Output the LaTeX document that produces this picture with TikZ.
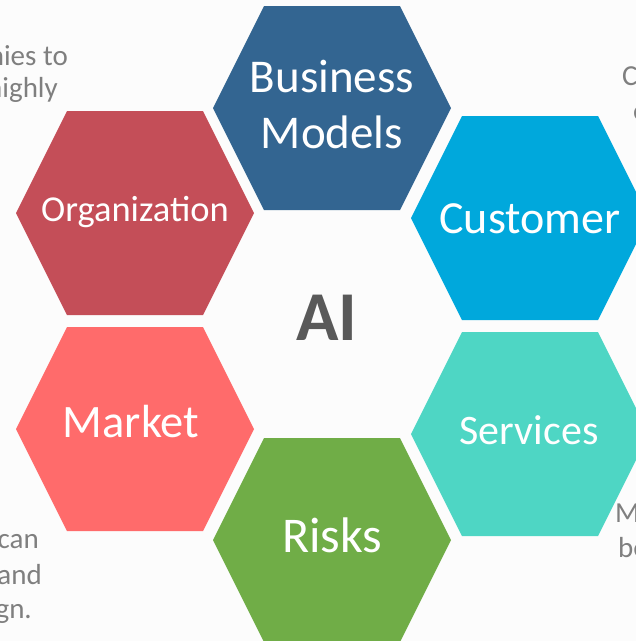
\documentclass[tikz,border=0pt]{standalone}
\usepackage{fontspec}
\setmainfont{Carlito}
\definecolor{bgpaper}{HTML}{FCFCFC}
\definecolor{cBusiness}{HTML}{336591}
\definecolor{cOrg}{HTML}{C44E58}
\definecolor{cMarket}{HTML}{FF6B6B}
\definecolor{cCustomer}{HTML}{00A8DC}
\definecolor{cServices}{HTML}{4ED6C4}
\definecolor{cRisks}{HTML}{70AD47}
\definecolor{cCore}{HTML}{595959}
\definecolor{cSide}{HTML}{7F7F7F}

% one hexagonal cell: name, centre x, centre y, fill colour
\newcommand\hexcell[4]{%
  \fill[#4,shift={(#2,#3)}] (-68,-102) -- (68,-102) -- (119,0) -- (68,102)
    -- (-68,102) -- (-119,0) -- cycle;
  \coordinate (#1) at (#2,#3);
}

\tikzset{
  celltext/.style={text=white, inner sep=0pt, anchor=base, align=center},
  sidetext/.style={text=cSide, inner sep=0pt, font=\fontsize{29}{35}\selectfont},
}

\begin{document}
\begin{tikzpicture}[x=1pt,y=-1pt]
  \useasboundingbox (0,0) rectangle (636,641);
  \fill[bgpaper] (0,0) rectangle (636,641);
  \clip (0,0) rectangle (636,641);

  % the six cells around the core
  \hexcell{business}{332}{108}{cBusiness}
  \hexcell{organization}{135}{213}{cOrg}
  \hexcell{customer}{530}{218}{cCustomer}
  \hexcell{market}{135}{429}{cMarket}
  \hexcell{services}{530}{434}{cServices}
  \hexcell{risks}{332}{540}{cRisks}

  % cell labels
  \node[celltext, anchor=center, font=\fontsize{47}{56}\selectfont] (lbusiness) at (332,104) {Business\\Models};
  \node[celltext, font=\fontsize{36.5}{44}\selectfont] (lorganization) at (135,221) {Organization};
  \node[celltext, font=\fontsize{46}{56}\selectfont] (lcustomer) at (530,233) {Customer};
  \node[celltext, font=\fontsize{46.5}{56}\selectfont] (lmarket) at (131,437) {Market};
  \node[celltext, font=\fontsize{42}{50}\selectfont] (lservices) at (529,444) {Services};
  \node[celltext, font=\fontsize{50}{60}\selectfont] (lrisks) at (332,552) {Risks};

  % core label
  \node[text=cCore, inner sep=0pt, anchor=base, font=\fontsize{70}{84}\selectfont\bfseries] (core) at (327,340) {AI};

  % surrounding notes, running off the edges
  \node[sidetext, anchor=base east] (tl1) at (68,65) {nies to};
  \node[sidetext, anchor=base east] (tl2) at (58,97) {highly};
  \node[sidetext, anchor=base west] (tr1) at (622,85) {C};
  \node[sidetext, anchor=base west] (tr2) at (633,120) {o};
  \node[sidetext, anchor=base east] (bl1) at (39,548) {can};
  \node[sidetext, anchor=base east] (bl2) at (42,584) {and};
  \node[sidetext, anchor=base east] (bl3) at (32,618) {gn.};
  \node[sidetext, anchor=base west] (br1) at (615,522) {M};
  \node[sidetext, anchor=base west] (br2) at (618,557) {be};
\end{tikzpicture}
\end{document}
